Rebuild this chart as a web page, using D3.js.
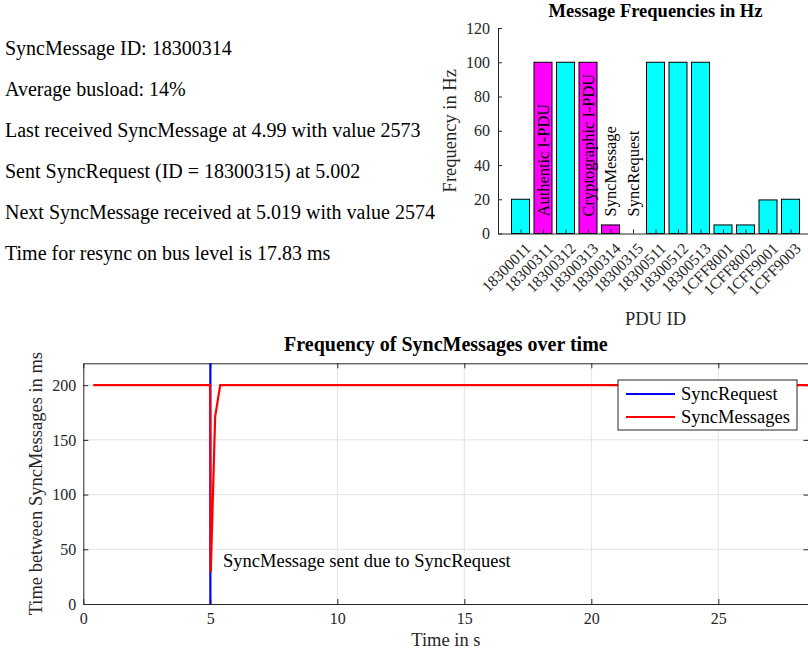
<!DOCTYPE html>
<html>
<head>
<meta charset="utf-8">
<script src="https://cdn.jsdelivr.net/npm/d3@7"></script>
<style>
  body { margin: 0; background: #fff; }
  svg, svg text { font-family: "Liberation Serif", "Times New Roman", serif; }
  .tick text { fill: #262626; }
</style>
</head>
<body>
<svg id="chart" width="808" height="653"></svg>
<script>
// Info text shown on the left
var infoLines = [
  "SyncMessage ID: 18300314",
  "Average busload: 14%",
  "Last received SyncMessage at 4.99 with value 2573",
  "Sent SyncRequest (ID = 18300315) at 5.002",
  "Next SyncMessage received at 5.019 with value 2574",
  "Time for resync on bus level is 17.83 ms"
];

// Bar chart data
var pduIds = ["18300011", "18300311", "18300312", "18300313", "18300314", "18300315",
              "18300511", "18300512", "18300513", "1CFF8001", "1CFF8002", "1CFF9001", "1CFF9003"];
var pduFreq = [20, 100, 100, 100, 5, 0, 100, 100, 100, 5, 5, 19.6, 20];
var securedIds = ["18300311", "18300313", "18300314"];
var noteIds = ["18300311", "18300313", "18300314", "18300315"];
var noteTexts = ["Authentic I-PDU", "Cryptographic I-PDU", "SyncMessage", "SyncRequest"];
var freqTicks = [0, 20, 40, 60, 80, 100, 120];

// Line chart data
var syncTimes = [0.39, 4.99, 5.019, 5.19, 5.39, 28.59];
var syncGaps = [200, 200, 29, 171, 200, 200];
var requestTime = 5.002;
var timeTicks = [0, 5, 10, 15, 20, 25];
var gapTicks = [0, 50, 100, 150, 200];

var svg = d3.select("#chart");
var axisColor = "#262626";
var labelSize = "18.5px";
var serif = '"Liberation Serif", "Times New Roman", serif';

// ---- info text ----
svg.append("g").selectAll("text")
  .data(infoLines)
  .enter().append("text")
    .attr("x", 5)
    .attr("y", function(d, i) { return 55 + i * 41; })
    .style("font-size", "20px")
    .attr("fill", "#000")
    .text(function(d) { return d; });

// ---- bar chart ----
var bx = d3.scaleLinear().domain([0, 14]).range([498, 813]);
var by = d3.scaleLinear().domain([0, 120]).range([233.5, 28]);
var barW = (bx(1) - bx(0)) * 0.8;

var bar = svg.append("g");

bar.selectAll("rect")
  .data(pduFreq)
  .enter().append("rect")
    .attr("x", function(d, i) { return bx(i + 1) - barW / 2; })
    .attr("y", function(d) { return by(d); })
    .attr("width", barW)
    .attr("height", function(d) { return by(0) - by(d); })
    .attr("fill", function(d, i) { return securedIds.indexOf(pduIds[i]) >= 0 ? "#ff00ff" : "#00ffff"; })
    .attr("stroke", "#000")
    .attr("stroke-width", 1)
    .style("display", function(d) { return d > 0 ? null : "none"; });

bar.selectAll(".note")
  .data(noteTexts)
  .enter().append("text")
    .attr("class", "note")
    .attr("transform", function(d, i) {
      return "translate(" + bx(pduIds.indexOf(noteIds[i]) + 1) + "," + by(10) + ") rotate(-90)";
    })
    .attr("dy", "0.35em")
    .style("font-size", "16.4px")
    .text(function(d) { return d; });

var byAxis = bar.append("g")
  .attr("transform", "translate(" + bx(0) + ",0)")
  .call(d3.axisLeft(by).tickValues(freqTicks).tickSizeInner(-4).tickSizeOuter(0).tickPadding(8));
byAxis.selectAll("text").style("font-size", "16px");

var bxAxis = bar.append("g")
  .attr("transform", "translate(0," + by(0) + ")")
  .call(d3.axisBottom(bx).tickValues(d3.range(1, pduIds.length + 1))
    .tickFormat(function(i) { return pduIds[i - 1]; })
    .tickSizeInner(-4).tickSizeOuter(0));
bxAxis.selectAll("text")
  .style("font-size", "15.6px")
  .attr("text-anchor", "end")
  .attr("y", 0)
  .attr("dy", "0.35em")
  .attr("transform", "translate(7,12) rotate(-45)");

[byAxis, bxAxis].forEach(function(a) {
  a.attr("font-family", null);
  a.selectAll("text").style("font-family", serif);
  a.select(".domain").attr("stroke", axisColor);
  a.selectAll("line").attr("stroke", axisColor);
});

bar.append("text")
  .attr("x", (bx(0) + bx(14)) / 2)
  .attr("y", 17)
  .attr("text-anchor", "middle")
  .style("font-size", "18.5px")
  .style("font-weight", "bold")
  .text("Message Frequencies in Hz");

bar.append("text")
  .attr("x", (bx(0) + bx(14)) / 2)
  .attr("y", 325)
  .attr("text-anchor", "middle")
  .style("font-size", labelSize)
  .attr("fill", axisColor)
  .text("PDU ID");

bar.append("text")
  .attr("transform", "translate(456," + (by(0) + by(120)) / 2 + ") rotate(-90)")
  .attr("text-anchor", "middle")
  .style("font-size", labelSize)
  .attr("fill", axisColor)
  .text("Frequency in Hz");

// ---- line chart ----
var lx = d3.scaleLinear().domain([0, 28.55]).range([83.3, 808.5]);
var ly = d3.scaleLinear().domain([0, 220]).range([604, 363.3]);

var line = svg.append("g");

// grid
line.append("g").selectAll("line")
  .data(timeTicks.slice(1))
  .enter().append("line")
    .attr("x1", function(d) { return lx(d); }).attr("x2", function(d) { return lx(d); })
    .attr("y1", ly(0)).attr("y2", ly(220))
    .attr("stroke", "#e3e3e3");
line.append("g").selectAll("line")
  .data(gapTicks.slice(1))
  .enter().append("line")
    .attr("x1", lx.range()[0]).attr("x2", lx.range()[1])
    .attr("y1", function(d) { return ly(d); }).attr("y2", function(d) { return ly(d); })
    .attr("stroke", "#e3e3e3");

// axes on all four sides, ticks pointing in
var lxAxis = line.append("g")
  .attr("transform", "translate(0," + ly(0) + ")")
  .call(d3.axisBottom(lx).tickValues(timeTicks).tickSizeInner(-5).tickSizeOuter(0).tickPadding(9));
var lxTop = line.append("g")
  .attr("transform", "translate(0," + ly(220) + ")")
  .call(d3.axisTop(lx).tickValues(timeTicks).tickSizeInner(-5).tickSizeOuter(0).tickFormat(""));
var lyAxis = line.append("g")
  .attr("transform", "translate(" + lx(0) + ",0)")
  .call(d3.axisLeft(ly).tickValues(gapTicks).tickSizeInner(-5).tickSizeOuter(0).tickPadding(7));
var lyRight = line.append("g")
  .attr("transform", "translate(" + lx.range()[1] + ",0)")
  .call(d3.axisRight(ly).tickValues(gapTicks).tickSizeInner(-5).tickSizeOuter(0).tickFormat(""));
[lxAxis, lxTop, lyAxis, lyRight].forEach(function(a) {
  a.attr("font-family", null);
  a.select(".domain").attr("stroke", axisColor);
  a.selectAll("line").attr("stroke", axisColor);
  a.selectAll("text").style("font-size", "16px").style("font-family", serif);
});

// SyncRequest
line.append("line")
  .attr("x1", lx(requestTime)).attr("x2", lx(requestTime))
  .attr("y1", ly(0)).attr("y2", ly(220))
  .attr("stroke", "#0000ff")
  .attr("stroke-width", 2.2);

// SyncMessages
var gapLine = d3.line()
  .x(function(d, i) { return lx(syncTimes[i]); })
  .y(function(d) { return ly(d); });
line.append("path")
  .datum(syncGaps)
  .attr("d", gapLine)
  .attr("fill", "none")
  .attr("stroke", "#ff0000")
  .attr("stroke-width", 2.2);

line.append("text")
  .attr("x", lx(5.5))
  .attr("y", ly(40))
  .attr("dy", "0.35em")
  .style("font-size", labelSize)
  .text("SyncMessage sent due to SyncRequest");

line.append("text")
  .attr("x", (lx.range()[0] + lx.range()[1]) / 2)
  .attr("y", 351)
  .attr("text-anchor", "middle")
  .style("font-size", "20px")
  .style("font-weight", "bold")
  .text("Frequency of SyncMessages over time");

line.append("text")
  .attr("x", (lx.range()[0] + lx.range()[1]) / 2)
  .attr("y", 646)
  .attr("text-anchor", "middle")
  .style("font-size", labelSize)
  .attr("fill", axisColor)
  .text("Time in s");

line.append("text")
  .attr("transform", "translate(42," + (ly(0) + ly(220)) / 2 + ") rotate(-90)")
  .attr("text-anchor", "middle")
  .style("font-size", labelSize)
  .attr("fill", axisColor)
  .text("Time between SyncMessages in ms");

// legend
var legend = line.append("g").attr("transform", "translate(618,380)");
legend.append("rect")
  .attr("width", 179).attr("height", 50)
  .attr("fill", "#fff").attr("stroke", axisColor);
var legendItems = [{ name: "SyncRequest", color: "#0000ff" }, { name: "SyncMessages", color: "#ff0000" }];
var li = legend.selectAll(".item")
  .data(legendItems)
  .enter().append("g")
    .attr("transform", function(d, i) { return "translate(0," + (14 + i * 23) + ")"; });
li.append("line")
  .attr("x1", 8).attr("x2", 57)
  .attr("stroke", function(d) { return d.color; })
  .attr("stroke-width", 2.2);
li.append("text")
  .attr("x", 63)
  .attr("dy", "0.35em")
  .style("font-size", labelSize)
  .text(function(d) { return d.name; });
</script>
</body>
</html>
